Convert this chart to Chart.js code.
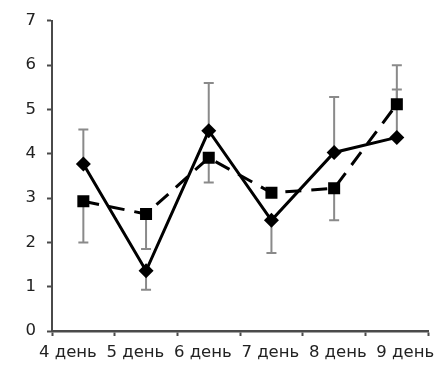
<!DOCTYPE html>
<html>
<head>
<meta charset="utf-8">
<script src="https://cdn.jsdelivr.net/npm/chart.js@4/dist/chart.umd.min.js"></script>
<style>
  html, body { margin: 0; padding: 0; background: #fff; }
  canvas { display: block; }
</style>
</head>
<body>
<canvas id="c" width="442" height="369"></canvas>
<script>
// Categories (days)
const days = ['4 день', '5 день', '6 день', '7 день', '8 день', '9 день'];

// Series with diamond markers (solid line)
const seriesDiamond = [3.77, 1.36, 4.52, 2.50, 4.03, 4.37];
// End value of each diamond error bar (one-sided)
const seriesDiamondErrEnd = [4.55, 0.93, 5.60, 1.76, 5.28, 5.45];

// Series with square markers (dashed line)
const seriesSquare = [2.93, 2.64, 3.91, 3.12, 3.22, 5.12];
// End value of each square error bar (one-sided, null = none)
const seriesSquareErrEnd = [2.00, 1.85, 3.35, null, 2.50, 6.00];

// Y axis tick values
const yTicks = [0, 1, 2, 3, 4, 5, 6, 7];

const errorBars = {
  id: 'errorBars',
  beforeDatasetsDraw(chart) {
    const { ctx, scales: { x, y } } = chart;
    const sets = [
      [seriesDiamond, seriesDiamondErrEnd],
      [seriesSquare, seriesSquareErrEnd]
    ];
    ctx.save();
    ctx.strokeStyle = '#8a8a8a';
    ctx.lineWidth = 2;
    ctx.lineCap = 'butt';
    sets.forEach(([vals, ends]) => {
      vals.forEach((v, i) => {
        const e = ends[i];
        if (e === null || e === undefined) return;
        const px = x.getPixelForValue(i);
        const py0 = y.getPixelForValue(v);
        const py1 = y.getPixelForValue(e);
        ctx.beginPath();
        ctx.moveTo(px, py0);
        ctx.lineTo(px, py1);
        ctx.moveTo(px - 5, py1);
        ctx.lineTo(px + 5, py1);
        ctx.stroke();
      });
    });
    ctx.restore();
  }
};

const tickFont = { family: '"DejaVu Sans", sans-serif', size: 16.5 };

new Chart(document.getElementById('c'), {
  type: 'line',
  data: {
    labels: days,
    datasets: [
      {
        data: seriesSquare,
        borderColor: '#000',
        backgroundColor: '#000',
        borderWidth: 3,
        borderDash: [16, 10],
        pointStyle: 'rect',
        pointRadius: 8.5,
        pointBorderWidth: 0,
        pointBackgroundColor: '#000',
        tension: 0
      },
      {
        data: seriesDiamond,
        borderColor: '#000',
        backgroundColor: '#000',
        borderWidth: 3,
        pointStyle: 'rectRot',
        pointRadius: 7.5,
        pointBorderWidth: 0,
        pointBackgroundColor: '#000',
        tension: 0
      }
    ]
  },
  options: {
    responsive: false,
    devicePixelRatio: 1,
    animation: false,
    layout: { padding: { left: 0, right: 12, top: 20, bottom: 0 } },
    plugins: {
      legend: { display: false },
      tooltip: { enabled: false }
    },
    scales: {
      // category axis: carries the points and the boundary tick marks
      x: {
        type: 'category',
        position: 'bottom',
        offset: true,
        grid: {
          offset: true,
          drawOnChartArea: false,
          drawTicks: true,
          tickLength: 5,
          color: '#4a4a4a',
          tickWidth: 2
        },
        border: { display: true, color: '#4a4a4a', width: 2.5 },
        ticks: { display: false, autoSkip: false },
        afterFit(scale) { scale.height = 5; }
      },
      // day labels, spread slightly wider than the category slots
      xl: {
        type: 'linear',
        position: 'bottom',
        min: -0.236,
        max: 5.34,
        afterBuildTicks(scale) { scale.ticks = days.map((_, i) => ({ value: i })); },
        grid: { display: false, drawTicks: false },
        border: { display: false },
        ticks: {
          autoSkip: false,
          maxRotation: 0,
          minRotation: 0,
          padding: 7,
          color: '#222',
          font: tickFont,
          callback: (v) => days[v] ?? ''
        },
        afterFit(scale) { scale.height = 33; }
      },
      y: {
        min: 0,
        max: 7,
        afterBuildTicks(scale) { scale.ticks = yTicks.map(v => ({ value: v })); },
        grid: {
          drawOnChartArea: false,
          drawTicks: true,
          tickLength: 5,
          color: '#4a4a4a',
          tickWidth: 2
        },
        border: { display: true, color: '#4a4a4a', width: 2 },
        ticks: {
          padding: 11,
          color: '#222',
          font: tickFont
        },
        afterFit(scale) { scale.width = 52; }
      }
    }
  },
  plugins: [errorBars]
});
</script>
</body>
</html>
